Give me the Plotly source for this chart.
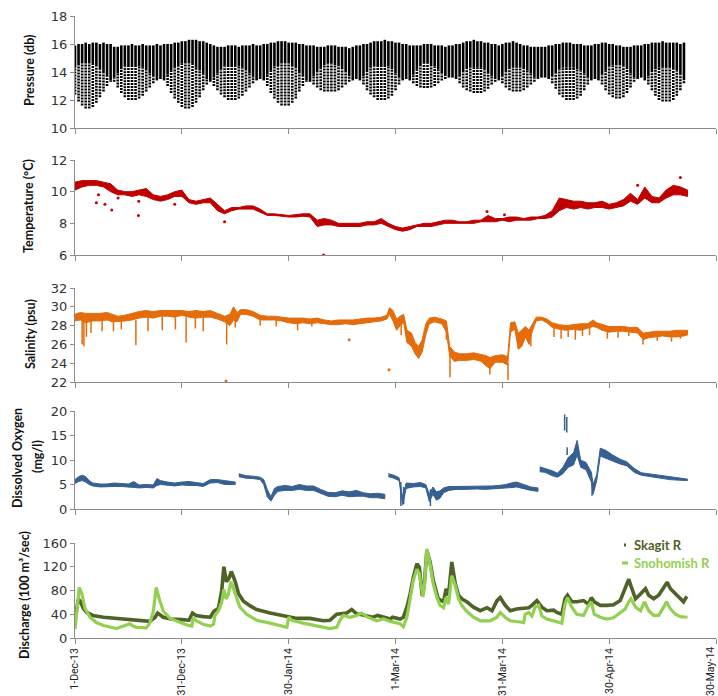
import pandas as pd
import plotly.graph_objects as go
from plotly.subplots import make_subplots

START = pd.Timestamp("2013-12-01")

# ---------------- Pressure (db): one tidal column per day (day 0 = 1-Dec-13)
p_high = [15.9, 16.0, 16.0, 16.1, 16.0, 16.1, 16.1, 16.0, 16.1, 16.0, 16.0,
          15.8, 15.8, 15.9, 15.9, 15.9, 16.0, 15.9, 15.9, 16.0, 15.9, 15.9, 15.9, 16.0, 15.9, 16.0,
          16.0, 16.0, 16.1, 16.1, 16.2, 16.2, 16.3, 16.3, 16.3, 16.2, 16.2, 16.1, 16.0,
          15.9, 15.8, 15.8, 15.8, 15.9, 15.9, 15.9, 15.8, 15.9, 15.9, 15.9, 16.0, 15.9, 15.9, 16.0,
          16.0, 16.1, 16.1, 16.2, 16.2, 16.2, 16.1, 16.1, 16.1, 16.0, 16.0, 15.9, 15.9,
          15.9, 15.8, 15.8, 15.8, 15.9, 15.9, 15.9, 15.8, 15.8, 15.8, 15.7, 15.8, 15.9, 15.9,
          16.0, 16.0, 16.1, 16.2, 16.2, 16.2, 16.3, 16.2, 16.2, 16.1, 16.1, 16.0, 16.0, 15.9,
          15.9, 15.9, 15.9, 16.0, 16.0, 16.0, 15.9, 15.9, 15.9, 15.8, 15.9, 15.9, 16.0,
          16.0, 16.1, 16.2, 16.2, 16.3, 16.2, 16.2, 16.1, 16.1, 16.0, 16.0, 15.9,
          16.0, 16.1, 16.1, 16.2, 16.1, 16.0, 15.9, 15.9, 15.8, 15.8, 15.8, 15.8, 15.8, 15.9,
          15.9, 16.0, 16.0, 16.1, 16.1, 16.1, 16.0, 16.0, 16.0, 15.9, 15.9, 15.9, 16.0, 16.0,
          16.1, 16.1, 16.0, 16.0, 15.9, 15.9, 15.8, 15.8, 15.8, 15.9, 15.9, 15.9, 16.0,
          16.0, 16.1, 16.1, 16.1, 16.2, 16.1, 16.1, 16.1, 16.1, 16.0, 16.1]
p_mid = [14.3, 14.5, 14.6, 14.6, 14.6, 14.5, 14.4, 14.2, 14.0, 13.7, 13.4,
         13.6, 13.9, 14.2, 14.4, 14.5, 14.5, 14.5, 14.4, 14.3, 14.1, 13.9, 13.7, 13.5, 13.5, 13.4,
         13.8, 14.1, 14.3, 14.5, 14.6, 14.6, 14.6, 14.5, 14.3, 14.1, 13.8, 13.5, 13.3,
         13.6, 13.9, 14.2, 14.4, 14.5, 14.5, 14.5, 14.4, 14.3, 14.1, 13.9, 13.6, 13.4, 13.5, 13.4,
         13.8, 14.1, 14.4, 14.5, 14.6, 14.6, 14.6, 14.5, 14.3, 14.0, 13.7, 13.4, 13.3,
         13.7, 14.0, 14.3, 14.5, 14.6, 14.6, 14.5, 14.4, 14.2, 14.0, 13.7, 13.5, 13.5, 13.4,
         13.7, 14.0, 14.3, 14.4, 14.5, 14.5, 14.5, 14.4, 14.2, 13.9, 13.6, 13.4, 13.5, 13.4,
         13.8, 14.2, 14.4, 14.6, 14.6, 14.5, 14.4, 14.2, 13.9, 13.7, 13.6, 13.6, 13.5,
         13.7, 14.0, 14.2, 14.3, 14.3, 14.3, 14.3, 14.2, 14.0, 13.7, 13.5, 13.4,
         13.7, 14.0, 14.2, 14.3, 14.3, 14.3, 14.2, 14.1, 13.9, 13.6, 13.5, 13.6, 13.6, 13.5,
         13.7, 14.0, 14.2, 14.3, 14.3, 14.3, 14.3, 14.2, 14.1, 13.9, 13.6, 13.4, 13.5, 13.4,
         13.8, 14.1, 14.4, 14.5, 14.5, 14.5, 14.4, 14.2, 13.9, 13.6, 13.5, 13.6, 13.4,
         13.7, 14.0, 14.2, 14.3, 14.3, 14.3, 14.3, 14.2, 14.1, 13.8, 13.5]
p_low = [12.4, 11.9, 11.6, 11.4, 11.4, 11.5, 11.8, 12.2, 12.6, 13.0, 13.3,
         13.3, 12.9, 12.5, 12.2, 12.0, 12.0, 12.0, 12.1, 12.3, 12.6, 12.9, 13.2, 13.4, 13.5, 13.4,
         13.0, 12.5, 12.1, 11.8, 11.5, 11.4, 11.4, 11.5, 11.8, 12.2, 12.7, 13.1, 13.3,
         13.0, 12.7, 12.4, 12.2, 12.0, 12.0, 12.0, 12.1, 12.3, 12.6, 12.9, 13.2, 13.4, 13.5, 13.4,
         13.0, 12.5, 12.1, 11.8, 11.6, 11.6, 11.6, 11.8, 12.1, 12.6, 13.0, 13.3, 13.3,
         13.1, 12.9, 12.7, 12.6, 12.6, 12.6, 12.6, 12.7, 12.9, 13.1, 13.3, 13.4, 13.5, 13.4,
         13.1, 12.7, 12.4, 12.2, 12.0, 12.0, 12.0, 12.1, 12.3, 12.7, 13.1, 13.4, 13.5, 13.4,
         13.2, 13.0, 12.9, 12.85, 12.85, 12.9, 13.0, 13.2, 13.4, 13.5, 13.6, 13.6, 13.5,
         13.2, 12.9, 12.7, 12.6, 12.5, 12.5, 12.5, 12.6, 12.8, 13.1, 13.3, 13.4,
         13.2, 12.9, 12.7, 12.6, 12.6, 12.6, 12.7, 12.9, 13.1, 13.3, 13.5, 13.6, 13.6, 13.5,
         13.2, 12.8, 12.4, 12.2, 12.0, 12.0, 12.0, 12.1, 12.3, 12.7, 13.1, 13.4, 13.5, 13.4,
         13.1, 12.7, 12.4, 12.2, 12.1, 12.1, 12.2, 12.5, 12.9, 13.3, 13.5, 13.6, 13.4,
         13.1, 12.7, 12.3, 12.0, 11.9, 11.9, 11.9, 12.0, 12.3, 12.7, 13.2]

# ---------------- Temperature (°C) band
temp_day = [0, 2, 4, 6, 8, 10, 12, 14, 16, 18, 20, 22, 24, 26, 28, 30, 32, 34, 36, 38, 40, 42, 44, 46,
            48, 50, 52, 54, 56, 58, 60, 62, 64, 66, 68, 70, 72, 74, 76, 78, 80, 82, 84, 86, 88, 90, 92,
            94, 96, 98, 100, 102, 104, 106, 108, 110, 112, 114, 116, 118, 120, 122, 124, 126, 128, 130,
            132, 134, 136, 138, 140, 142, 144, 146, 148, 150, 152, 154, 156, 158, 160, 162, 164, 166,
            168, 170, 172]
temp_lo = [10.1, 10.3, 10.4, 10.4, 10.3, 10.0, 9.8, 9.8, 9.7, 9.8, 9.7, 9.5, 9.4, 9.5, 9.7, 9.7, 9.3,
           9.2, 9.3, 9.3, 8.8, 8.6, 8.8, 8.9, 8.9, 8.9, 8.7, 8.5, 8.5, 8.45, 8.4, 8.4, 8.45, 8.4, 7.8,
           7.9, 7.9, 7.8, 7.8, 7.8, 7.8, 7.9, 7.9, 8.0, 7.8, 7.6, 7.5, 7.6, 7.8, 7.8, 7.8, 7.9, 8.0, 8.0,
           8.0, 8.0, 8.0, 8.1, 8.1, 8.1, 8.2, 8.1, 8.2, 8.2, 8.2, 8.3, 8.3, 8.4, 8.8, 9.0, 8.9, 9.0, 8.9,
           9.0, 9.0, 8.9, 9.0, 9.1, 9.4, 9.2, 9.6, 9.3, 9.3, 9.6, 9.8, 9.8, 9.7]
temp_hi = [10.6, 10.7, 10.7, 10.7, 10.6, 10.5, 10.1, 10.0, 10.0, 10.1, 10.2, 9.8, 9.7, 9.8, 10.0, 10.1,
           9.5, 9.4, 9.5, 9.6, 9.2, 8.8, 9.0, 9.0, 9.1, 9.1, 8.9, 8.6, 8.6, 8.55, 8.5, 8.55, 8.6, 8.6,
           8.2, 8.3, 8.2, 8.0, 8.0, 8.0, 8.0, 8.1, 8.1, 8.3, 8.0, 7.8, 7.7, 7.8, 7.9, 8.0, 8.0, 8.1, 8.2,
           8.2, 8.1, 8.1, 8.2, 8.2, 8.5, 8.3, 8.3, 8.4, 8.4, 8.3, 8.4, 8.4, 8.5, 8.8, 9.6, 9.5, 9.4, 9.4,
           9.3, 9.3, 9.4, 9.2, 9.3, 9.5, 9.9, 9.5, 10.3, 9.7, 9.6, 10.1, 10.4, 10.3, 10.1]
temp_out_day = [6.0, 6.6, 8.4, 10.3, 12.1, 17.8, 17.9, 28.0, 42.0, 69.8, 115.7, 120.6, 158.0, 170.0]
temp_out_val = [9.3, 9.8, 9.2, 8.85, 9.6, 8.5, 9.4, 9.2, 8.1, 6.0, 8.75, 8.55, 10.4, 10.9]

# ---------------- Salinity (psu) band
sal_day = [0, 1.5, 3, 5, 7, 9, 10.5, 12, 14, 16, 18, 20, 22, 24, 26, 28, 30, 32, 34, 36, 38, 40, 42,
           43.5, 44.5, 45.5, 46.5, 48, 50, 52, 54, 56, 58, 60, 62, 64, 66, 68, 70, 72, 74, 76, 78, 80,
           82, 84, 86, 87.6, 88.3, 89.3, 90.3, 91.3, 92.3, 93.2, 94.5, 95.5, 96.5, 97.5, 98.5, 99.5,
           101, 103, 104.3, 105.2, 106.5, 108, 110, 112, 114, 115.5, 116.5, 118, 120, 121.5, 122.3,
           123.5, 124.5, 125.5, 126.5, 127.5, 128.5, 129.5, 131, 132.5, 134, 136, 138, 140, 142, 144,
           145.5, 146.5, 148, 150, 152, 154, 156, 158, 159.6, 161, 163, 165, 167, 169, 171, 172]
sal_lo = [28.5, 28.6, 28.3, 28.5, 28.5, 28.6, 28.4, 28.4, 28.5, 28.6, 28.8, 28.9, 28.8, 29.0, 29.0,
          28.9, 29.1, 28.9, 28.8, 28.9, 28.9, 28.7, 28.4, 28.0, 28.6, 28.4, 29.2, 29.2, 29.0, 28.6,
          28.6, 28.6, 28.5, 28.3, 28.2, 28.3, 28.2, 28.3, 28.2, 28.1, 28.1, 28.2, 28.1, 28.2, 28.3,
          28.4, 28.5, 28.7, 29.2, 28.5, 27.5, 28.0, 28.3, 26.2, 25.8, 25.0, 24.5, 25.2, 27.0, 28.2,
          28.4, 28.2, 27.3, 24.8, 24.2, 24.3, 24.3, 24.4, 24.2, 23.7, 23.4, 24.1, 24.1, 23.8, 27.3,
          27.6, 25.5, 25.8, 26.8, 26.0, 27.5, 28.5, 28.6, 28.3, 27.8, 27.6, 27.5, 27.6, 27.5, 27.7,
          27.9, 27.8, 27.5, 27.3, 27.4, 27.4, 27.3, 27.2, 26.5, 26.7, 26.8, 26.9, 26.8, 26.8, 26.9, 27.0]
sal_hi = [29.2, 29.4, 29.3, 29.3, 29.3, 29.4, 29.2, 29.0, 29.1, 29.3, 29.5, 29.6, 29.5, 29.6, 29.6,
          29.6, 29.6, 29.5, 29.6, 29.5, 29.6, 29.3, 29.0, 29.2, 30.0, 29.4, 29.7, 29.7, 29.5, 29.1,
          29.0, 29.0, 28.9, 28.8, 28.8, 28.8, 28.7, 28.8, 28.6, 28.5, 28.6, 28.6, 28.6, 28.7, 28.8,
          28.8, 28.9, 29.1, 29.9, 29.6, 28.7, 29.0, 29.2, 27.5, 27.2, 26.2, 25.8, 26.5, 28.2, 28.8,
          28.9, 28.7, 28.5, 25.8, 25.2, 25.0, 25.0, 25.1, 24.9, 24.8, 24.6, 24.8, 24.9, 24.7, 28.3,
          28.4, 27.2, 27.5, 27.9, 27.5, 28.2, 28.9, 28.9, 28.7, 28.3, 28.1, 28.0, 28.1, 28.2, 28.2,
          28.6, 28.3, 28.1, 27.9, 27.9, 27.9, 27.8, 27.8, 27.2, 27.3, 27.4, 27.4, 27.4, 27.5, 27.5, 27.5]
sal_spike_day = [2.0, 2.5, 3.2, 4.5, 7.6, 10.8, 13.0, 17.1, 20.5, 24.5, 28.2, 31.2, 33.8, 36.0, 42.6,
                 45.0, 52.0, 56.5, 62.5, 66.5, 91.6, 104.3, 105.3, 116.5, 121.6, 124.5, 128.0, 134.5,
                 136.5, 138.5, 140.5, 142.5, 144.5, 149.5, 152.5, 155.5, 159.5, 163.5, 167.5, 170.0]
sal_spike_top = [28.5, 28.5, 28.4, 28.5, 28.6, 28.5, 28.5, 28.6, 28.9, 29.0, 28.9, 28.9, 28.9, 28.9,
                 28.5, 28.5, 28.6, 28.6, 28.3, 28.2, 28.3, 27.8, 25.0, 24.0, 24.0, 26.0, 27.5, 27.8,
                 27.6, 27.5, 27.6, 27.6, 27.8, 27.4, 27.4, 27.3, 26.8, 26.9, 26.8, 26.9]
sal_spike_bot = [26.0, 25.8, 26.8, 27.2, 27.4, 27.4, 27.6, 25.9, 27.4, 27.5, 27.6, 26.2, 27.7, 27.4,
                 26.0, 27.8, 28.0, 27.9, 27.5, 27.9, 27.0, 26.5, 22.5, 22.8, 22.2, 25.5, 25.8, 26.8,
                 26.6, 26.8, 26.5, 26.9, 27.0, 26.6, 26.7, 26.9, 26.0, 26.4, 26.3, 26.6]
sal_dot_day = [42.4, 77.0, 88.2]
sal_dot_val = [22.1, 26.5, 23.3]

# ---------------- Dissolved oxygen (mg/l) band (None = gap in record)
do_day = [0, 1, 2, 3, 4, 5, 7, 9, 11, 13, 15, 16.5, 18, 20, 22, 23, 24, 26, 28, 30, 32, 34, 36, 38,
          40, 42, 44, 45, 45.5, 46, 48, 50, 52, 53, 54, 55, 56, 57, 59, 61, 63, 65, 67, 69, 71, 73, 75,
          77, 79, 81, 83, 85, 87, 87.5, 88, 89.5, 91, 92, 93, 95, 97, 98.5, 99.5, 100.5, 101.5, 102.5,
          103.5, 105, 107, 109, 111, 113, 115, 117, 119, 121, 123, 124, 126, 128, 130, 130.3, 130.5,
          132, 134, 135.5, 137, 138.5, 140, 141, 142, 143.5, 145, 145.5, 146.5, 147.5, 149, 151, 153,
          155, 157, 159, 161, 163, 165, 167, 169, 171, 172]
do_lo = [5.2, 5.6, 5.8, 5.5, 5.0, 4.7, 4.5, 4.5, 4.6, 4.6, 4.5, 4.4, 4.3, 4.4, 4.3, 4.8, 5.0, 4.8, 4.7,
         4.9, 4.8, 4.8, 4.6, 5.3, 5.4, 5.0, 5.0, 5.0, None, 6.6, 6.3, 6.2, 6.0, 5.0, 2.5, 1.6, 2.8, 3.6,
         3.8, 3.8, 4.0, 3.8, 3.8, 3.2, 2.6, 2.5, 2.8, 2.5, 2.6, 2.6, 2.3, 2.3, 2.1, None, 6.6, 6.3, 5.8,
         0.8, 4.2, 4.5, 4.6, 4.3, 1.5, 3.0, 1.8, 2.2, 3.3, 3.8, 4.0, 4.0, 4.0, 4.1, 4.0, 4.0, 4.1, 4.3,
         4.4, 4.5, 4.2, 3.8, 3.6, None, 7.6, 7.5, 6.8, 6.5, 7.2, 8.5, 9.0, 11.0, 8.5, 8.0, 5.5, 3.0, 5.8,
         10.8, 10.5, 9.8, 9.2, 8.8, 7.5, 6.9, 6.7, 6.5, 6.2, 6.0, 5.9, 5.8, 5.8]
do_hi = [6.0, 6.6, 6.9, 6.6, 5.8, 5.3, 5.1, 5.1, 5.3, 5.2, 5.1, 5.6, 4.9, 5.0, 4.9, 6.2, 5.8, 5.5, 5.3,
         5.5, 5.6, 5.4, 5.2, 6.0, 6.0, 5.8, 5.6, 5.5, None, 7.2, 6.8, 6.7, 6.5, 6.0, 4.0, 2.5, 4.2, 4.6,
         4.8, 4.6, 5.0, 4.7, 4.7, 4.0, 3.4, 3.3, 3.7, 3.5, 3.8, 3.3, 3.1, 3.2, 3.0, None, 7.2, 6.9, 6.4,
         2.5, 5.3, 5.2, 5.4, 5.0, 3.0, 4.5, 3.5, 3.7, 4.3, 4.6, 4.6, 4.6, 4.6, 4.6, 4.6, 4.7, 4.8, 5.0,
         5.4, 5.5, 5.0, 4.5, 4.3, None, 8.6, 8.3, 7.8, 7.3, 8.5, 10.5, 11.5, 14.0, 10.0, 9.5, 7.5, 5.0,
         7.0, 12.4, 12.0, 11.0, 10.2, 9.6, 8.3, 7.4, 7.2, 7.0, 6.7, 6.5, 6.3, 6.2, 6.1]
do_spike_day = [91.5, 92.3, 99.8, 137.5, 138.1, 138.2, 145.2]
do_spike_top = [5.5, 4.5, 4.0, 19.3, 18.8, 12.6, 5.0]
do_spike_bot = [0.6, 1.0, 0.6, 16.0, 15.6, 11.0, 2.7]

# ---------------- Discharge (100 m3/sec)
skagit_day = [0, 0.4, 0.9, 1.5, 2.3, 3.3, 5, 8, 10, 13, 17, 20, 21, 22.5, 23.2, 24.8, 27, 30, 32, 33,
              34, 36, 38, 39, 40.3, 41.2, 41.8, 42.5, 43.2, 43.9, 45, 45.9, 47.3, 49.2, 51, 54.8, 58.5,
              62.3, 66, 69.7, 71.6, 73.5, 76.3, 77.7, 79, 81, 83.7, 85, 88.5, 89.2, 91.3, 92.2, 93.2,
              94.1, 95, 96, 96.7, 97.5, 98.1, 98.8, 99.7, 100.6, 102, 103.5, 104.2, 104.9, 105.8, 106.8,
              107.7, 108.6, 110, 111.9, 113.8, 115.7, 117.1, 118.5, 119.4, 120.8, 122.2, 124, 126, 127.4,
              128.3, 129.7, 131.1, 132.5, 134.4, 135.3, 136.7, 137.6, 138.3, 139.5, 140.9, 142.8, 144.2,
              145, 145.8, 147.5, 149.4, 151.2, 153.1, 154.5, 155.5, 156.1, 157.4, 158.8, 160.2, 161.1,
              162.5, 163.9, 165.3, 166.3, 167.2, 168.6, 170, 170.9, 171.8]
skagit_q = [30, 50, 65, 62, 50, 43, 38, 35, 34, 33, 31, 30, 28, 35, 42, 35, 32, 31, 30, 42, 38, 36, 35,
            45, 50, 80, 120, 95, 100, 112, 95, 75, 62, 54, 48, 42, 38, 33, 33, 29, 30, 40, 42, 48, 41,
            38, 35, 38, 32, 35, 32, 35, 52, 74, 102, 125, 119, 71, 91, 147, 128, 97, 66, 61, 83, 72, 128,
            91, 72, 66, 61, 52, 46, 51, 46, 63, 68, 55, 46, 49, 51, 51, 55, 63, 52, 46, 47, 43, 40, 66,
            72, 61, 61, 63, 57, 68, 61, 55, 55, 56, 63, 86, 99, 88, 66, 74, 83, 72, 66, 72, 86, 94, 83,
            74, 66, 61, 70]
snoho_day = [0, 0.5, 1.2, 1.9, 2.8, 4.2, 6, 8, 11.7, 12.6, 13.5, 15.4, 16.3, 17.3, 20, 21, 22, 22.8,
             23.7, 24.8, 26.7, 29.5, 31.4, 32.8, 33.2, 34, 36, 38, 38.9, 39.3, 40.3, 41.2, 41.8, 42.4,
             43, 43.8, 45, 46.3, 48.2, 51, 54.8, 58.5, 59.5, 60, 60.8, 64, 67.9, 71.6, 73.5, 74.4, 75.4,
             77.2, 79.1, 80.5, 81.9, 84.7, 86.6, 88.5, 91.3, 92.2, 93.2, 94.1, 95, 96, 96.7, 97.7, 98.1,
             98.8, 99.7, 100.6, 101.6, 102.5, 103.5, 104.2, 104.9, 105.8, 106.8, 107.7, 108.6, 110,
             111.9, 113.8, 116.6, 118.5, 119.4, 120.8, 122.2, 125, 126, 126.4, 127.4, 128.3, 129.2,
             130.2, 131.1, 132.5, 135.3, 136.7, 137.6, 138.3, 139.5, 140.9, 142.8, 144.2, 145, 145.8,
             147.5, 149.4, 151.2, 153.1, 154.5, 155.5, 156.1, 157.4, 158.8, 159.9, 161.1, 162.5, 163.9,
             165.3, 166.1, 167.2, 168.6, 170, 172]
snoho_q = [15, 45, 85, 75, 50, 35, 26, 21, 16, 18, 20, 24, 20, 18, 17, 25, 45, 85, 65, 45, 33, 26, 22,
           20, 34, 29, 23, 20, 23, 38, 46, 60, 82, 66, 72, 95, 76, 52, 40, 30, 25, 20, 18, 35, 30, 25,
           20, 16, 18, 30, 38, 35, 38, 42, 36, 29, 32, 28, 24, 19, 35, 63, 97, 116, 108, 69, 86, 150,
           125, 91, 69, 55, 51, 69, 57, 105, 88, 66, 55, 45, 35, 29, 29, 35, 43, 35, 29, 27, 26, 40, 43,
           37, 52, 55, 37, 32, 27, 25, 57, 68, 52, 40, 38, 55, 61, 40, 35, 32, 34, 43, 49, 61, 66, 52,
           46, 61, 46, 38, 38, 52, 61, 49, 40, 36, 35]

tick_dates = ["2013-12-01", "2013-12-31", "2014-01-30", "2014-03-01", "2014-03-31", "2014-04-30",
              "2014-05-30"]
tick_text = ["1-Dec-13", "31-Dec-13", "30-Jan-14", "1-Mar-14", "31-Mar-14", "30-Apr-14", "30-May-14"]

C_P, C_T, C_S, C_O = "#000000", "#c00000", "#e46c0a", "#376092"
C_SK, C_SN = "#4f6228", "#92d050"


def dt(d):
    return (START + pd.Timedelta(days=float(d))).to_pydatetime()


def vsegments(days, tops, bots):
    xs, ys = [], []
    for d, t, b in zip(days, tops, bots):
        xs += [dt(d), dt(d), None]
        ys += [b, t, None]
    return xs, ys


def add_band(fig, row, days, lo, hi, color):
    segs, cur = [], []
    for d, a, b in zip(days, lo, hi):
        if a is None or b is None:
            if cur:
                segs.append(cur)
            cur = []
            continue
        cur.append((d, a, b))
    if cur:
        segs.append(cur)
    for s in segs:
        ds = [p[0] for p in s]
        ls = [p[1] for p in s]
        hs = [p[2] for p in s]
        fig.add_trace(go.Scatter(x=[dt(d) for d in ds + ds[::-1]], y=hs + ls[::-1], mode="lines",
                                 fill="toself", fillcolor=color, line=dict(color=color, width=1.0),
                                 hoverinfo="skip", showlegend=False), row=row, col=1)


fig = make_subplots(rows=5, cols=1, shared_xaxes=True)

# Pressure columns
p_days = list(range(len(p_high)))
xd, yd = vsegments(p_days, p_high, p_mid)
xs2, ys2 = vsegments(p_days, p_mid, p_low)
fig.add_trace(go.Scatter(x=xs2, y=ys2, mode="lines",
                         line=dict(color=C_P, width=2.6, dash="2px,1px"),
                         hoverinfo="skip", showlegend=False), row=1, col=1)
fig.add_trace(go.Scatter(x=xd, y=yd, mode="lines", line=dict(color=C_P, width=2.6),
                         hoverinfo="skip", showlegend=False), row=1, col=1)

# Temperature
add_band(fig, 2, temp_day, temp_lo, temp_hi, C_T)
fig.add_trace(go.Scatter(x=[dt(d) for d in temp_out_day], y=temp_out_val, mode="markers",
                         marker=dict(color=C_T, size=3), hoverinfo="skip", showlegend=False),
              row=2, col=1)

# Salinity
add_band(fig, 3, sal_day, sal_lo, sal_hi, C_S)
xs, ys = vsegments(sal_spike_day, sal_spike_top, sal_spike_bot)
fig.add_trace(go.Scatter(x=xs, y=ys, mode="lines", line=dict(color=C_S, width=1.5),
                         hoverinfo="skip", showlegend=False), row=3, col=1)
fig.add_trace(go.Scatter(x=[dt(d) for d in sal_dot_day], y=sal_dot_val, mode="markers",
                         marker=dict(color=C_S, size=3), hoverinfo="skip", showlegend=False),
              row=3, col=1)

# Dissolved oxygen
add_band(fig, 4, do_day, do_lo, do_hi, C_O)
xs, ys = vsegments(do_spike_day, do_spike_top, do_spike_bot)
fig.add_trace(go.Scatter(x=xs, y=ys, mode="lines", line=dict(color=C_O, width=1.5),
                         hoverinfo="skip", showlegend=False), row=4, col=1)

# Discharge
fig.add_trace(go.Scatter(x=[dt(d) for d in skagit_day], y=skagit_q, mode="lines",
                         line=dict(color=C_SK, width=3.6), name="Skagit R", showlegend=False),
              row=5, col=1)
fig.add_trace(go.Scatter(x=[dt(d) for d in snoho_day], y=snoho_q, mode="lines",
                         line=dict(color=C_SN, width=3.2), name="Snohomish R", showlegend=False),
              row=5, col=1)

H, W = 696, 718
ML, MR, MT, MB = 75, 2, 16, 58
PH = H - MT - MB
PW = W - ML - MR


def ypf(px):
    return (H - MB - px) / PH


def xpf(px):
    return (px - ML) / PW


domains = [(128, 16), (255, 160), (382, 288), (509, 411), (638, 543)]
yranges = [[10, 18], [6, 12], [22, 32], [0, 20], [0, 160]]
yticks = [[10, 12, 14, 16, 18], [6, 8, 10, 12], [22, 24, 26, 28, 30, 32], [0, 5, 10, 15, 20],
          [0, 40, 80, 120, 160]]

axis_col = "#8c8c8c"
date_font = dict(family="Roboto", size=10.5, color="#222222")
# the last tick sits on the right edge; its label is drawn as an annotation kept inside the page
axis_ticktext = tick_text[:-1] + [""]
layout = {}
for i in range(5):
    k = "" if i == 0 else str(i + 1)
    layout["yaxis" + k] = dict(domain=[ypf(domains[i][0]), ypf(domains[i][1])], range=yranges[i],
                               tickvals=yticks[i], ticks="outside", ticklen=4, tickcolor=axis_col,
                               showline=True, linecolor=axis_col, linewidth=1, showgrid=False,
                               zeroline=False,
                               tickfont=dict(family="DejaVu Sans", size=13, color="#333333"))
    layout["xaxis" + k] = dict(type="date", range=["2013-12-01", "2014-05-30"], tickvals=tick_dates,
                               ticktext=axis_ticktext, ticks="outside", ticklen=5, tickcolor=axis_col,
                               showline=True, linecolor=axis_col, linewidth=1, showgrid=False,
                               zeroline=False, tickangle=-90, showticklabels=(i == 4),
                               tickfont=date_font)
fig.update_layout(**layout)

title_font = dict(family="Lato", size=12.5, color="#111111")
titles = [("<b>Pressure (db)</b>", 29, 71), ("<b>Temperature (°C)</b>", 29, 206),
          ("<b>Salinity (psu)</b>", 30, 334), ("<b>Dissolved Oxygen</b>", 17, 458),
          ("<b>(mg/l)</b>", 37, 457), ("<b>Discharge (100 m³/sec)</b>", 24, 595)]
ann = []
for txt, x, y in titles:
    ann.append(dict(text=txt, x=xpf(x), y=ypf(y), xref="paper", yref="paper", showarrow=False,
                    textangle=-90, xanchor="center", yanchor="middle", font=title_font))
ann.append(dict(text=tick_text[-1], x=1.0, y=ypf(646), xref="paper", yref="paper", showarrow=False,
                textangle=-90, xanchor="right", yanchor="top", font=date_font,
                xshift=2, borderpad=0))
ann.append(dict(text="<b>Skagit R</b>", x=xpf(632), y=ypf(545), xref="paper", yref="paper",
                showarrow=False, xanchor="left", yanchor="middle",
                font=dict(family="Lato", size=13, color=C_SK)))
ann.append(dict(text="<b>Snohomish R</b>", x=xpf(632), y=ypf(563), xref="paper", yref="paper",
                showarrow=False, xanchor="left", yanchor="middle",
                font=dict(family="Lato", size=13, color=C_SN)))
shapes = [dict(type="rect", xref="paper", yref="paper", x0=xpf(624), x1=xpf(626), y0=ypf(546.5),
               y1=ypf(543.5), fillcolor=C_SK, line=dict(width=0)),
          dict(type="rect", xref="paper", yref="paper", x0=xpf(622), x1=xpf(628), y0=ypf(564.5),
               y1=ypf(561.5), fillcolor=C_SN, line=dict(width=0))]

fig.update_layout(width=W, height=H, margin=dict(l=ML, r=MR, t=MT, b=MB, autoexpand=False),
                  paper_bgcolor="white", plot_bgcolor="white", showlegend=False,
                  annotations=ann, shapes=shapes)

fig.write_html("out.html", config={"displayModeBar": False},
               post_script="document.body.style.margin='0px';")
